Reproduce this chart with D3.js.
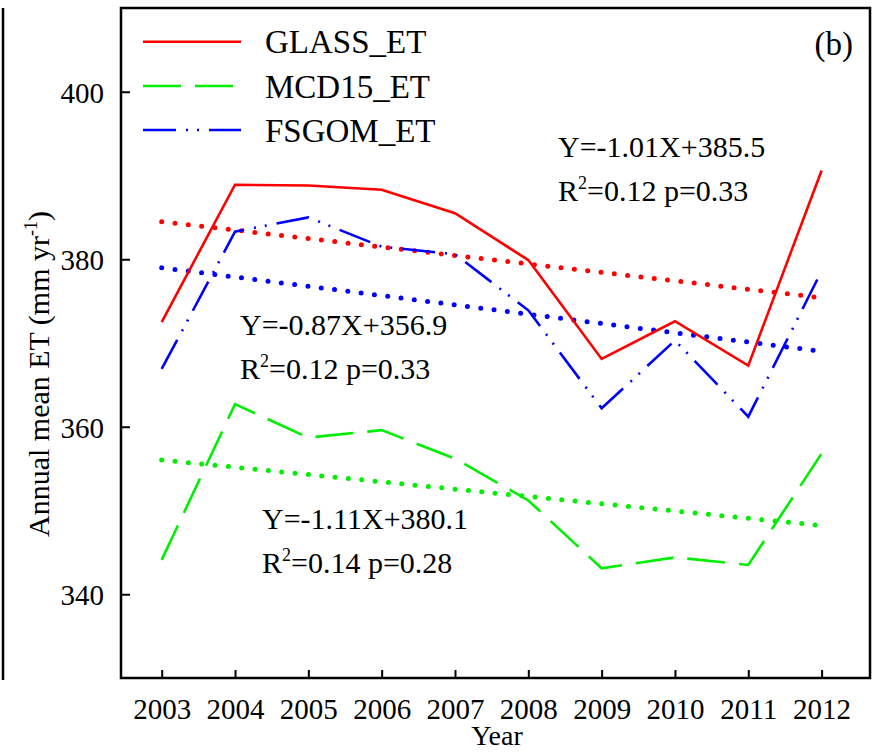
<!DOCTYPE html>
<html>
<head>
<meta charset="utf-8">
<script src="https://cdn.jsdelivr.net/npm/d3@7"></script>
<style>
  html, body { margin: 0; padding: 0; background: #fff; }
  svg { display: block; }
  text { font-family: "Liberation Serif", "Times New Roman", serif; fill: #000; }
</style>
</head>
<body>
<script>
// Annual mean ET, 2003-2012
const years = [2003, 2004, 2005, 2006, 2007, 2008, 2009, 2010, 2011, 2012];
const glassET = [372.5, 388.9, 388.8, 388.3, 385.5, 379.9, 368.1, 372.6, 367.3, 390.6];
const mcd15ET = [344.1, 362.7, 358.7, 359.6, 356.2, 351.2, 343.1, 344.4, 343.5, 356.8];
const fsgomET = [366.9, 383.3, 385.0, 381.5, 380.6, 373.9, 362.2, 370.3, 361.2, 378.6];

// Linear trends, X = 1..10 for 2003..2012
const trendSlopes = { GLASS: -1.01, MCD15: -0.87, FSGOM: -1.11 };
const trendIntercepts = { GLASS: 385.5, MCD15: 356.9, FSGOM: 380.1 };

const yTicks = [340, 360, 380, 400];
const seriesNames = ["GLASS_ET", "MCD15_ET", "FSGOM_ET"];

// Equation labels as printed on the figure
const eqLines = [
  ["Y=-1.01X+385.5", "0.12 p=0.33"],
  ["Y=-0.87X+356.9", "0.12 p=0.33"],
  ["Y=-1.11X+380.1", "0.14 p=0.28"]
];

const W = 874, H = 752;
const plot = { left: 121, right: 870, top: 8, bottom: 678 };

const svg = d3.select("body").append("svg").attr("width", W).attr("height", H);

const x = d3.scaleLinear().domain([2002.445, 2012.66]).range([plot.left, plot.right]);
const y = d3.scaleLinear().domain([330, 410]).range([plot.bottom, plot.top]);

const colors = { GLASS: "#ff0000", MCD15: "#00ee00", FSGOM: "#0000ff" };
const dashes = { GLASS: null, MCD15: "38 14", FSGOM: "33 10 2 9 2 10" };

// neighbouring panel edge
svg.append("line").attr("x1", 3).attr("x2", 3).attr("y1", 8).attr("y2", 680)
  .attr("stroke", "#000").attr("stroke-width", 2.5);

// trend lines (dotted)
const trendKeys = ["GLASS", "FSGOM", "MCD15"];
trendKeys.forEach(k => {
  const pts = years.map((yr, i) => [yr, trendSlopes[k] * (i + 1) + trendIntercepts[k]]);
  svg.append("path")
    .attr("d", d3.line().x(d => x(d[0])).y(d => y(d[1]))(pts))
    .attr("fill", "none").attr("stroke", colors[k])
    .attr("stroke-width", 5).attr("stroke-linecap", "round")
    .attr("stroke-dasharray", "0 13.4");
});

// data lines
const series = [
  { key: "GLASS", values: glassET },
  { key: "MCD15", values: mcd15ET },
  { key: "FSGOM", values: fsgomET }
];
const line = d3.line().x((d, i) => x(years[i])).y(d => y(d));
series.forEach(s => {
  svg.append("path").attr("d", line(s.values))
    .attr("fill", "none").attr("stroke", colors[s.key])
    .attr("stroke-width", 2.6)
    .attr("stroke-dasharray", dashes[s.key]);
});

// axes
const yAxis = d3.axisLeft(y).tickValues(yTicks).tickSize(-9).tickPadding(17).tickFormat(d3.format("d"));
const gy = svg.append("g").attr("transform", `translate(${plot.left},0)`).call(yAxis);
const xAxis = d3.axisBottom(x).tickValues(years).tickSize(-8).tickPadding(19).tickFormat(d3.format("d"));
const gx = svg.append("g").attr("transform", `translate(0,${plot.bottom})`).call(xAxis);
[gx, gy].forEach(g => {
  g.select(".domain").remove();
  g.selectAll(".tick line").attr("stroke", "#000").attr("stroke-width", 2);
  g.selectAll(".tick text").attr("font-size", 29)
    .attr("font-family", "'Liberation Serif', 'Times New Roman', serif").attr("fill", "#000");
});
gx.selectAll(".tick text").attr("dy", null).attr("y", 41);
gy.selectAll(".tick text").attr("dy", "0.36em");

// frame
svg.append("rect").attr("x", plot.left).attr("y", plot.top)
  .attr("width", plot.right - plot.left).attr("height", plot.bottom - plot.top)
  .attr("fill", "none").attr("stroke", "#000").attr("stroke-width", 2.5);

// axis titles
svg.append("text").attr("x", 497).attr("y", 745).attr("text-anchor", "middle")
  .attr("font-size", 28).text("Year");
const yt = svg.append("text").attr("transform", "translate(49,374) rotate(-90)")
  .attr("text-anchor", "middle").attr("font-size", 30);
yt.append("tspan").text("Annual mean ET (mm yr");
yt.append("tspan").attr("font-size", 18).attr("dy", -12).text("-1");
yt.append("tspan").attr("dy", 12).text(")");

// legend
const legY = [41.7, 86, 130];
seriesNames.forEach((name, i) => {
  const k = series[i].key;
  svg.append("line").attr("x1", 143).attr("x2", 241).attr("y1", legY[i]).attr("y2", legY[i])
    .attr("stroke", colors[k]).attr("stroke-width", 2.6)
    .attr("stroke-dasharray", dashes[k]);
  svg.append("text").attr("x", 265).attr("y", legY[i] + 11.5).attr("font-size", 33).text(name);
});

// panel label
svg.append("text").attr("x", 853).attr("y", 55).attr("text-anchor", "end")
  .attr("font-size", 33).text("(b)");

// regression equations
const eqPos = [[558, 157], [240, 335], [262, 529]];
eqLines.forEach((ln, i) => {
  const [px, py] = eqPos[i];
  svg.append("text").attr("x", px).attr("y", py).attr("font-size", 30).text(ln[0]);
  const t = svg.append("text").attr("x", px).attr("y", py + 44).attr("font-size", 30);
  t.append("tspan").text("R");
  t.append("tspan").attr("font-size", 18).attr("dy", -12).text("2");
  t.append("tspan").attr("dy", 12).text("=" + ln[1]);
});
</script>
</body>
</html>
